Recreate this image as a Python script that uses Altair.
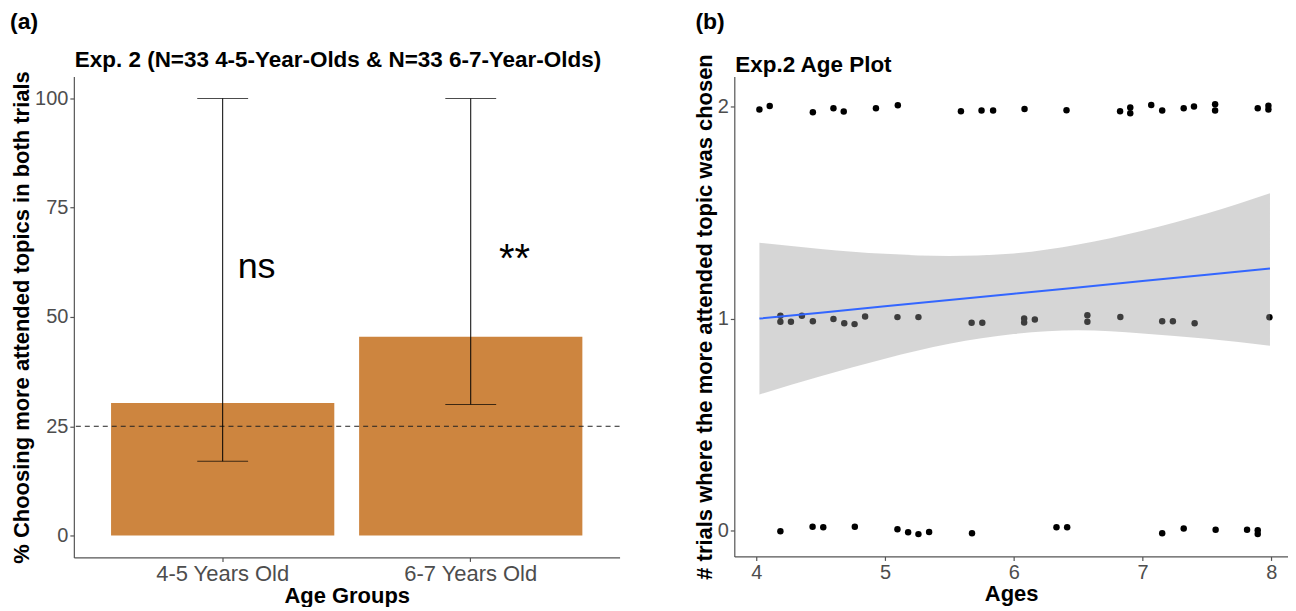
import altair as alt
import pandas as pd

FONT = "Liberation Sans"

# ---------- Panel (a): bar chart ----------
groups = ["4-5 Years Old", "6-7 Years Old"]
pct_chosen = [30.3, 45.45]
ci_low = [17.0, 30.0]
ci_high = [100.0, 100.0]
chance_level = [25.0]
sig_labels = ["ns", "**"]
sig_y = [61.5, 63.0]

# ---------- Panel (b): scatter of ages vs trials ----------
ages_top = [4.025, 4.105, 4.44, 4.60, 4.68, 4.93, 5.10, 5.59, 5.75, 5.84,
            6.084, 6.41, 6.826, 6.905, 6.905, 7.068, 7.153, 7.32, 7.40,
            7.564, 7.564, 7.895, 7.978, 7.978]
trials_top = [1.985, 2.001, 1.972, 1.991, 1.975, 1.991, 2.005, 1.977, 1.980, 1.980,
              1.987, 1.981, 1.977, 1.994, 1.967, 2.006, 1.980, 1.991, 1.999,
              2.009, 1.980, 1.991, 2.003, 1.985]

ages_mid = [4.188, 4.188, 4.27, 4.355, 4.44, 4.60, 4.684, 4.764, 4.846, 5.097,
            5.26, 5.673, 5.756, 6.081, 6.081, 6.164, 6.572, 6.572, 6.828,
            7.153, 7.236, 7.405, 7.986]
trials_mid = [1.013, 0.985, 0.985, 1.013, 0.988, 0.998, 0.978, 0.974, 1.010, 1.007,
              1.007, 0.980, 0.980, 1.001, 0.982, 0.996, 1.016, 0.985, 1.008,
              0.988, 0.988, 0.978, 1.006]

ages_bot = [4.188, 4.438, 4.521, 4.766, 5.097, 5.18, 5.26, 5.343, 5.676,
            6.332, 6.415, 7.153, 7.32, 7.568, 7.812, 7.895, 7.895]
trials_bot = [-0.001, 0.020, 0.017, 0.020, 0.008, -0.006, -0.015, -0.005, -0.011,
              0.017, 0.017, -0.011, 0.011, 0.006, 0.006, 0.003, -0.014]

fit_ages = [4.025, 4.5, 5.0, 5.5, 6.0, 6.5, 7.0, 7.5, 7.99]
fit_line = [1.000, 1.028, 1.058, 1.088, 1.117, 1.147, 1.177, 1.207, 1.236]
fit_upper = [1.357, 1.328, 1.305, 1.295, 1.307, 1.349, 1.414, 1.495, 1.590]
fit_lower = [0.643, 0.728, 0.811, 0.881, 0.927, 0.945, 0.930, 0.905, 0.872]

panel_tags = ["(a)", "(b)"]
panel_titles = ["Exp. 2 (N=33 4-5-Year-Olds & N=33 6-7-Year-Olds)", "Exp.2 Age Plot"]

bar_df = pd.DataFrame({"group": groups, "pct": pct_chosen, "lo": ci_low,
                       "hi": ci_high, "sig": sig_labels, "sig_y": sig_y})
chance_df = pd.DataFrame({"chance": chance_level})
pts_df = pd.DataFrame({"age": ages_top + ages_mid + ages_bot,
                       "trials": trials_top + trials_mid + trials_bot})
fit_df = pd.DataFrame({"age": fit_ages, "fit": fit_line,
                       "upper": fit_upper, "lower": fit_lower})
head_a_df = pd.DataFrame({"tag": [panel_tags[0]], "title": [panel_titles[0]]})
head_b_df = pd.DataFrame({"tag": [panel_tags[1]], "title": [panel_titles[1]]})


def header(df, tag_x, tag_y, title_y):
    tag = alt.Chart(df).mark_text(
        font=FONT, fontSize=23, fontWeight="bold", align="left", baseline="middle",
        color="black").encode(x=alt.value(tag_x), y=alt.value(tag_y), text="tag:N")
    ttl = alt.Chart(df).mark_text(
        font=FONT, fontSize=22.5, fontWeight="bold", align="left", baseline="middle",
        color="black").encode(x=alt.value(1), y=alt.value(title_y), text="title:N")
    return tag, ttl


# ---------- build panel (a) ----------
xband = alt.X("group:N", sort=groups,
              scale=alt.Scale(paddingInner=0.1, paddingOuter=0.15),
              axis=alt.Axis(title="Age Groups", labelAngle=0, labelFontSize=22))
yscale_a = alt.Scale(domain=[-5, 105], nice=False, zero=False)
ya = alt.Y("pct:Q", scale=yscale_a,
           axis=alt.Axis(title="% Choosing more attended topics in both trials",
                         values=[0, 25, 50, 75, 100]))

base_a = alt.Chart(bar_df)
bars = base_a.mark_bar(color="#CD853F").encode(x=xband, y=ya)
chance = alt.Chart(chance_df).mark_rule(color="#222222", strokeWidth=1,
                                         strokeDash=[5, 4]).encode(
    y=alt.Y("chance:Q", scale=yscale_a))
err = base_a.mark_rule(color="black", strokeWidth=1).encode(
    x=alt.X("group:N", sort=groups), y=alt.Y("lo:Q", scale=yscale_a), y2="hi:Q")
cap_lo = base_a.mark_tick(color="black", thickness=1, size=51).encode(
    x=alt.X("group:N", sort=groups), y=alt.Y("lo:Q", scale=yscale_a))
cap_hi = base_a.mark_tick(color="black", thickness=1, size=51).encode(
    x=alt.X("group:N", sort=groups), y=alt.Y("hi:Q", scale=yscale_a))
txt_ns = base_a.transform_filter(alt.datum.sig == "ns").mark_text(
    font=FONT, fontSize=36, dx=34, baseline="middle", color="black").encode(
    x=alt.X("group:N", sort=groups), y=alt.Y("sig_y:Q", scale=yscale_a), text="sig:N")
txt_st = base_a.transform_filter(alt.datum.sig == "**").mark_text(
    font=FONT, fontSize=40, dx=44, baseline="middle", color="black").encode(
    x=alt.X("group:N", sort=groups), y=alt.Y("sig_y:Q", scale=yscale_a), text="sig:N")
tag_a, title_a = header(head_a_df, -64, -55, -17)

chart_a = alt.layer(bars, chance, err, cap_lo, cap_hi, txt_ns, txt_st,
                    tag_a, title_a).properties(width=547, height=482)

# ---------- build panel (b) ----------
xs = alt.Scale(domain=[3.83, 8.13], nice=False, zero=False)
ys = alt.Scale(domain=[-0.12, 2.14], nice=False, zero=False)
xb = alt.X("age:Q", scale=xs,
           axis=alt.Axis(title="Ages", values=[4, 5, 6, 7, 8], format="d"))
yb = alt.Y("trials:Q", scale=ys,
           axis=alt.Axis(title="# trials where the more attended topic was chosen",
                         values=[0, 1, 2], format="d"))

pts = alt.Chart(pts_df).mark_circle(size=42, color="black", opacity=1).encode(x=xb, y=yb)
band = alt.Chart(fit_df).mark_area(color="#999999", opacity=0.4,
                                   interpolate="monotone").encode(
    x=alt.X("age:Q", scale=xs), y=alt.Y("lower:Q", scale=ys), y2="upper:Q")
line = alt.Chart(fit_df).mark_line(color="#3366FF", strokeWidth=2).encode(
    x=alt.X("age:Q", scale=xs), y=alt.Y("fit:Q", scale=ys))
tag_b, title_b = header(head_b_df, -39, -55, -12)

chart_b = alt.layer(pts, band, line, tag_b, title_b).properties(width=555, height=481)

chart = alt.hconcat(chart_a, chart_b, spacing=72).properties(
    padding={"left": 2, "top": 2, "right": 0, "bottom": 0}
).configure_view(stroke=None).configure_axis(
    labelFont=FONT, titleFont=FONT, labelFontSize=20, titleFontSize=22,
    labelColor="#4D4D4D", titleColor="black", titleFontWeight="bold",
    domainColor="#555555", domainWidth=1.2, tickColor="#555555", tickWidth=1.2,
    tickSize=4, labelPadding=2, titlePadding=1, grid=False
)

chart.save("out.html", embed_options={"renderer": "svg", "actions": False})
